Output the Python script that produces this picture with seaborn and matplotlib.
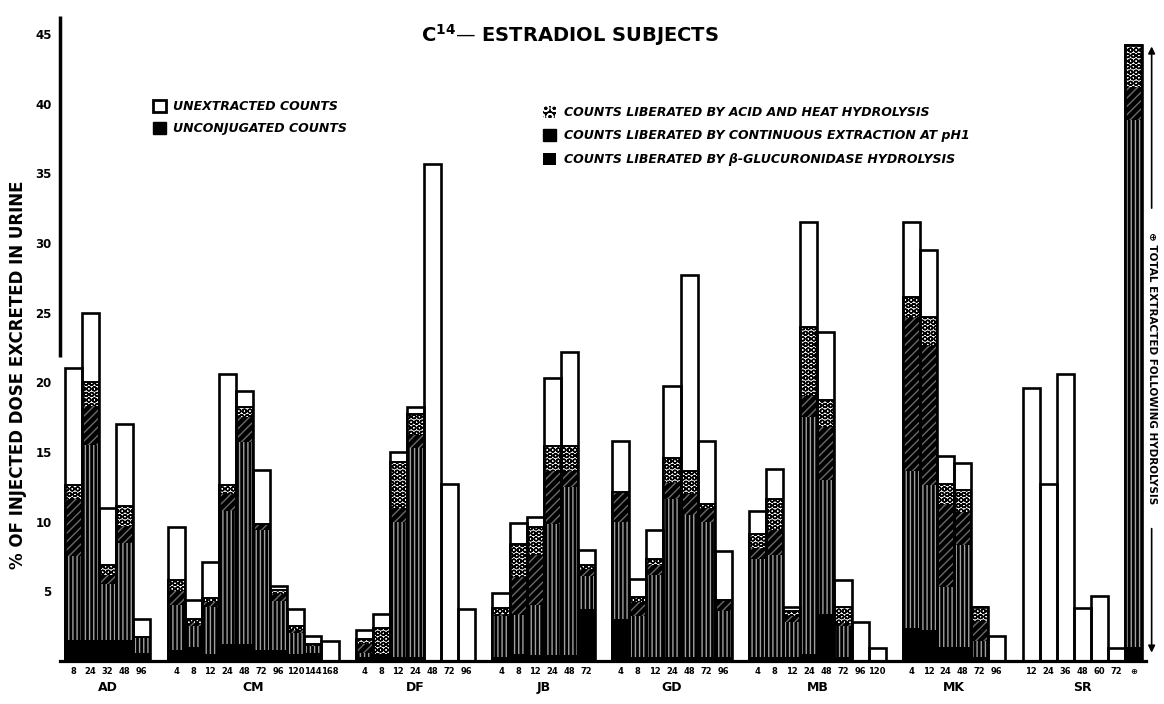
import matplotlib
matplotlib.use("Agg")
import numpy as np
import pandas as pd
import matplotlib.pyplot as plt
from matplotlib.patches import Patch
from matplotlib.transforms import blended_transform_factory
import seaborn as sns

# subjects and collection times (hours); the last SR bar is the total after hydrolysis
subjects = ["AD", "CM", "DF", "JB", "GD", "MB", "MK", "SR"]
hours = [
    ["8", "24", "32", "48", "96"],
    ["4", "8", "12", "24", "48", "72", "96", "120", "144", "168"],
    ["4", "8", "12", "24", "48", "72", "96"],
    ["4", "8", "12", "24", "48", "72"],
    ["4", "8", "12", "24", "48", "72", "96"],
    ["4", "8", "12", "24", "48", "72", "96", "120"],
    ["4", "12", "24", "48", "72", "96"],
    ["12", "24", "36", "48", "60", "72", "\u2295"],
]

# % of injected dose, one value per bar (same order as hours), bottom to top
unconjugated = [1.5, 1.5, 1.5, 1.5, 0.6,
                0.8, 1.0, 0.5, 1.2, 1.2, 0.8, 0.8, 0.5, 0.6, 0,
                0.3, 0.5, 0.3, 0.3, 0, 0, 0,
                0.3, 0.5, 0.4, 0.4, 0.4, 3.7,
                3.0, 0.3, 0.3, 0.3, 0.3, 0.3, 0.3,
                0.3, 0.3, 0.3, 0.5, 3.4, 0.3, 0, 0,
                2.4, 2.2, 1.0, 1.0, 0.3, 0,
                0, 0, 0, 0, 0, 0, 1.0]
glucuronidase = [6.0, 14.0, 4.0, 7.0, 1.1,
                 3.2, 1.5, 3.4, 9.6, 14.5, 8.6, 3.5, 1.5, 0.5, 0,
                 0.3, 0, 9.7, 15.0, 0, 0, 0,
                 2.9, 2.8, 3.6, 9.4, 12.1, 2.4,
                 7.0, 2.9, 5.9, 11.3, 10.2, 9.7, 3.3,
                 7.0, 7.3, 2.5, 17.0, 9.6, 2.2, 0, 0,
                 11.2, 10.4, 4.3, 7.3, 1.1, 0,
                 0, 0, 0, 0, 0, 0, 37.8]
extraction_ph1 = [4.1, 2.8, 0.7, 1.2, 0,
                  1.0, 0.2, 0.3, 1.2, 1.8, 0.4, 0.5, 0.2, 0.1, 0,
                  0.6, 0, 1.0, 0.9, 0, 0, 0,
                  0.2, 2.7, 3.6, 3.8, 1.1, 0.5,
                  2.1, 1.0, 0.7, 1.2, 1.5, 1.0, 0.8,
                  0.8, 1.8, 0.4, 1.5, 3.8, 0.2, 0, 0,
                  11.0, 10.0, 6.0, 2.4, 1.5, 0,
                  0, 0, 0, 0, 0, 0, 2.4]
acid_heat = [1.0, 1.7, 0.7, 1.4, 0,
             0.8, 0.3, 0.3, 0.6, 0.7, 0, 0.3, 0.3, 0, 0,
             0.4, 1.9, 3.3, 1.5, 0, 0, 0,
             0.4, 2.4, 2.0, 1.8, 1.8, 0.3,
             0, 0.4, 0.4, 1.8, 1.6, 0.3, 0,
             1.0, 2.2, 0.4, 5.0, 1.9, 1.2, 0, 0,
             1.5, 2.1, 1.4, 1.6, 1.0, 0,
             0, 0, 0, 0, 0, 0, 3.0]
unextracted = [8.4, 5.0, 4.1, 5.9, 1.3,
               3.8, 1.4, 2.6, 8.0, 1.2, 3.9, 0.3, 1.2, 0.6, 1.4,
               0.6, 1.0, 0.7, 0.5, 35.7, 12.7, 3.7,
               1.1, 1.5, 0.7, 4.9, 6.8, 1.1,
               3.7, 1.3, 2.1, 5.1, 14.1, 4.5, 3.5,
               1.7, 2.2, 0.3, 7.5, 4.9, 1.9, 2.8, 0.9,
               5.4, 4.8, 2.0, 1.9, 0, 1.8,
               19.6, 12.7, 20.6, 3.8, 4.7, 0.9, 0]

# bar slots, one empty slot between subjects
slot, tick_text, group_mid = [], [], []
pos = 0
for name, hrs in zip(subjects, hours):
    start = pos
    for h in hrs:
        slot.append(pos)
        tick_text.append(h)
        pos += 1
    group_mid.append((start + pos - 1) / 2)
    pos += 1

df = pd.DataFrame({"slot": slot})
df["c1"] = np.array(unconjugated)
df["c2"] = df["c1"] + np.array(glucuronidase)
df["c3"] = df["c2"] + np.array(extraction_ph1)
df["c4"] = df["c3"] + np.array(acid_heat)
df["c5"] = df["c4"] + np.array(unextracted)

sns.set_style("white")
plt.rcParams["font.family"] = ["DejaVu Sans"]
plt.rcParams["hatch.linewidth"] = 1.0
plt.rcParams["text.color"] = "black"
plt.rcParams["xtick.color"] = "black"
plt.rcParams["ytick.color"] = "black"
plt.rcParams["axes.labelcolor"] = "black"

fig = plt.figure(figsize=(11.64, 7.04), dpi=100)
ax = fig.add_axes([60 / 1164, 1 - 661 / 704, (1146 - 60) / 1164, (661 - 20) / 704])


def layer(col, face, edge, hatch=None, lw=0.0):
    n0 = len(ax.patches)
    sns.barplot(data=df, x="slot", y=col, native_scale=True, width=1,
                errorbar=None, color="black", saturation=1, ax=ax)
    for p in ax.patches[n0:]:
        p.set_facecolor(face)
        p.set_edgecolor(edge)
        p.set_linewidth(lw)
        p.set_hatch(hatch)
        p.set_joinstyle("miter")


layer("c5", "white", "black")
layer("c4", "white", "black", "OOO")
layer("c3", "black", "#6a6a6a", "////")
layer("c2", "black", "#a0a0a0", "||||")
layer("c1", "black", "black")
layer("c4", "none", "black", lw=1.4)
layer("c5", "none", "black", lw=1.9)

ax.set_xlim(-0.79, 62.72)
ax.set_ylim(0, 46)
ax.set_xlabel("")
ax.set_ylabel("")
ax.set_xticks(slot)
ax.set_xticklabels(tick_text, fontsize=6, fontweight="bold")
ax.set_yticks(range(5, 50, 5))
ax.set_yticklabels([str(v) for v in range(5, 50, 5)], fontsize=8.5, fontweight="bold")
ax.tick_params(axis="x", length=0, pad=4)
ax.tick_params(axis="y", length=5, width=1.5, direction="out", pad=1, color="black")
sns.despine(ax=ax, left=True)
ax.spines["bottom"].set_linewidth(2.3)
ax.spines["bottom"].set_color("black")
ax.plot([-0.79, -0.79], [21.8, 46.3], color="black", lw=2.5,
        clip_on=False, solid_capstyle="butt")

trans = blended_transform_factory(ax.transData, ax.transAxes)
for name, mid in zip(subjects, group_mid):
    ax.text(mid, -0.042, name, transform=trans, ha="center", va="center",
            fontsize=9, fontweight="bold")

fig.text(570 / 1164, 1 - 35 / 704, "C$^{\\mathbf{14}}$\u2014 ESTRADIOL SUBJECTS",
         ha="center", va="center", fontsize=14, fontweight="bold")
fig.text(18 / 1164, 1 - 375 / 704, "% OF INJECTED DOSE EXCRETED IN URINE",
         rotation=90, ha="center", va="center", fontsize=12, fontweight="bold")

# total-extracted note beside the last bar
ax.text(63.05, 21.0, "\u2295 TOTAL EXTRACTED FOLLOWING HYDROLYSIS", rotation=-90,
        ha="center", va="center", fontsize=7.5, fontweight="bold", clip_on=False)
ax.annotate("", xy=(63.05, 44.3), xytext=(63.05, 32.3), annotation_clip=False,
            arrowprops=dict(arrowstyle="-|>", color="black", lw=1.2))
ax.annotate("", xy=(63.05, 0.4), xytext=(63.05, 9.7), annotation_clip=False,
            arrowprops=dict(arrowstyle="-|>", color="black", lw=1.2))

legend_font = dict(weight="bold", style="italic", size=9)
left_handles = [Patch(facecolor="white", edgecolor="black", linewidth=2),
                Patch(facecolor="black", edgecolor="black")]
left_labels = ["UNEXTRACTED COUNTS", "UNCONJUGATED COUNTS"]
right_handles = [Patch(facecolor="black", edgecolor="white", hatch="OO", linewidth=0),
                 Patch(facecolor="black", edgecolor="black"),
                 Patch(facecolor="black", edgecolor="#9a9a9a", hatch="|", linewidth=0)]
right_labels = ["COUNTS LIBERATED BY ACID AND HEAT HYDROLYSIS",
                "COUNTS LIBERATED BY CONTINUOUS EXTRACTION AT pH1",
                "COUNTS LIBERATED BY \u03b2-GLUCURONIDASE HYDROLYSIS"]
fig.legend(left_handles, left_labels, loc="upper left",
           bbox_to_anchor=(153 / 1164, 1 - 100 / 704), frameon=False,
           prop=legend_font, handlelength=1.0, handleheight=1.1,
           handletextpad=0.6, labelspacing=0.7, borderpad=0, borderaxespad=0)
fig.legend(right_handles, right_labels, loc="upper left",
           bbox_to_anchor=(543 / 1164, 1 - 106 / 704), frameon=False,
           prop=legend_font, handlelength=1.0, handleheight=1.1,
           handletextpad=0.7, labelspacing=0.8, borderpad=0, borderaxespad=0)

fig.savefig("out.png", dpi=100)
plt.close(fig)
